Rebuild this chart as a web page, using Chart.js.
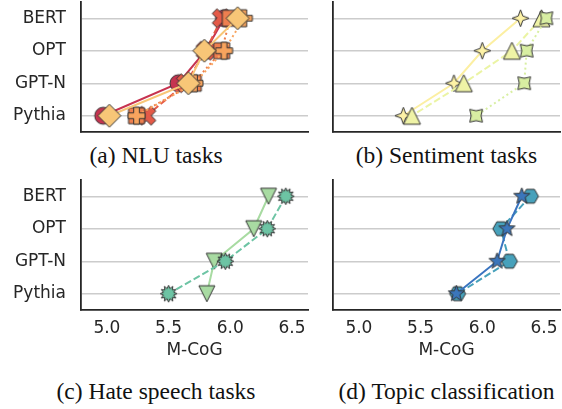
<!DOCTYPE html>
<html><head><meta charset="utf-8">
<script src="https://cdn.jsdelivr.net/npm/chart.js@4"></script>
<style>
body{margin:0;background:#fff;width:562px;height:409px;position:relative;overflow:hidden}
canvas{position:absolute}
.cap{position:absolute;font-family:"Liberation Serif","Times New Roman",serif;font-size:23.5px;color:#111;text-align:center;white-space:nowrap;line-height:1}
</style></head><body>
<canvas id="ca" width="312" height="135" style="left:0;top:0"></canvas>
<canvas id="cb" width="231" height="135" style="left:331px;top:0"></canvas>
<canvas id="cc" width="312" height="187" style="left:0;top:178px"></canvas>
<canvas id="cd" width="231" height="187" style="left:331px;top:178px"></canvas>
<div class="cap" style="left:0;width:312px;top:144px">(a) NLU tasks</div>
<div class="cap" style="left:331px;width:231px;top:144px">(b) Sentiment tasks</div>
<div class="cap" style="left:0;width:312px;top:380px">(c) Hate speech tasks</div>
<div class="cap" style="left:331px;width:231px;top:380px">(d) Topic classification</div>
<script>
// ---- data ----
const categories = ['BERT', 'OPT', 'GPT-N', 'Pythia'];
const xTicks = [5.0, 5.5, 6.0, 6.5];
const axisTitle = 'M-CoG';
// (a) NLU tasks
const nluCircle  = [5.95, 5.80, 5.58, 4.97];
const nluX       = [5.93, 5.80, 5.64, 5.32];
const nluSquare  = [6.00, 5.93, 5.70, 5.24];
const nluPlus    = [6.11, 5.95, 5.71, 5.24];
const nluDiamond = [6.06, 5.79, 5.66, 5.02];
// (b) Sentiment tasks
const sentSparkle    = [6.31, 6.00, 5.77, 5.36];
const sentTriangle   = [6.48, 6.24, 5.85, 5.43];
const sentSparkleRot = [6.52, 6.36, 6.34, 5.95];
// (c) Hate speech tasks
const hateTriangle = [6.31, 6.19, 5.87, 5.81];
const hateStar     = [6.45, 6.30, 5.96, 5.50];
// (d) Topic classification
const topicHex  = [6.39, 6.15, 6.22, 5.80];
const topicStar = [6.32, 6.20, 6.12, 5.79];

// ---- marker images ----
function marker(shape, size, fill) {
  const pad = 3, S = Math.ceil(size + pad * 2);
  const c = document.createElement('canvas'); c.width = S; c.height = S;
  const g = c.getContext('2d'); g.translate(S / 2, S / 2);
  const r = size / 2; let pts = null;
  const star = (n, ro, ri, rot) => { const p = []; for (let i = 0; i < 2 * n; i++) { const a = rot + i * Math.PI / n; const rr = i % 2 ? ri : ro; p.push([rr * Math.sin(a), -rr * Math.cos(a)]); } return p; };
  const reg = (n, ro, rot) => { const p = []; for (let i = 0; i < n; i++) { const a = rot + i * 2 * Math.PI / n; p.push([ro * Math.sin(a), -ro * Math.cos(a)]); } return p; };
  const plus = (rr) => { const w = rr / 3; return [[-w,-rr],[w,-rr],[w,-w],[rr,-w],[rr,w],[w,w],[w,rr],[-w,rr],[-w,w],[-rr,w],[-rr,-w],[-w,-w]]; };
  switch (shape) {
    case 'circle': g.beginPath(); g.arc(0, 0, r, 0, 2 * Math.PI); break;
    case 'diamond': pts = [[0,-r],[r,0],[0,r],[-r,0]]; break;
    case 'square': pts = [[-r,-r],[r,-r],[r,r],[-r,r]]; break;
    case 'plus': pts = plus(r); break;
    case 'x': pts = plus(r).map(([x, y]) => [(x - y) * Math.SQRT1_2, (x + y) * Math.SQRT1_2]); break;
    case 'triUp': pts = [[0,-r],[r,r],[-r,r]]; break;
    case 'triDown': pts = [[0,r],[r,-r],[-r,-r]]; break;
    case 'sparkle': pts = star(4, r, r * 0.38, 0); break;
    case 'sparkleRot': pts = star(4, r, r * 0.55, Math.PI / 4); break;
    case 'star12': pts = star(12, r, r * 0.62, 0); break;
    case 'hex': pts = reg(6, r, Math.PI / 2); break;
    case 'star5': pts = star(5, r, r * 0.42, 0); break;
  }
  if (pts) { g.beginPath(); pts.forEach((p, i) => i ? g.lineTo(p[0], p[1]) : g.moveTo(p[0], p[1])); g.closePath(); }
  g.fillStyle = fill; g.fill();
  g.lineWidth = 1; g.strokeStyle = '#333'; g.lineJoin = 'miter'; g.stroke();
  return c;
}

const SOLID = [], DASH = [7, 3], DOT = [2, 3];
const TICK_FONT = { family: 'DejaVu Sans', size: 17 };
const INK = '#262626';
function zeroPad(sc) { sc.paddingTop = 0; sc.paddingBottom = 0; sc.paddingLeft = 0; sc.paddingRight = 0; }

function makeChart(id, series, o) {
  new Chart(document.getElementById(id), {
    type: 'scatter',
    data: {
      datasets: series.map((s, i) => ({
        data: s.values.map((v, j) => ({ x: v, y: categories[j] })),
        showLine: true,
        borderColor: s.line,
        borderWidth: 2,
        borderDash: s.dash,
        pointStyle: marker(s.shape, s.size, s.fill),
        pointRadius: 9,
        order: -i,
        clip: false
      }))
    },
    options: {
      responsive: false, animation: false, devicePixelRatio: 1,
      layout: { autoPadding: false, padding: { top: 2, right: o.padR, left: 0, bottom: 0 } },
      plugins: { legend: { display: false }, tooltip: { enabled: false } },
      scales: {
        x: {
          type: 'linear', min: 4.79, max: 6.63,
          afterBuildTicks: sc => { sc.ticks = xTicks.map(v => ({ value: v })); },
          ticks: { display: o.xLabels, padding: 8.6, font: TICK_FONT, color: INK, callback: v => Number(v).toFixed(1), autoSkip: false, maxRotation: 0 },
          grid: { display: false, drawTicks: false },
          border: { color: INK, width: 1.8 },
          title: { display: o.xLabels, text: axisTitle, font: TICK_FONT, color: INK, padding: { top: 0, bottom: 4.6 } },
          afterFit: sc => { sc.height = o.xH; zeroPad(sc); }
        },
        y: {
          type: 'category', labels: categories, offset: true,
          grid: { offset: false, color: '#cccccc', lineWidth: 1.5, drawTicks: false },
          border: { color: INK, width: 1.8 },
          ticks: { display: o.yLabels, padding: 15, font: TICK_FONT, color: INK },
          afterFit: sc => { sc.width = o.yW; zeroPad(sc); }
        }
      }
    }
  });
}

makeChart('ca', [
  { values: nluCircle,  shape: 'circle',  size: 17, fill: '#c63350', line: '#c63350', dash: SOLID },
  { values: nluX,       shape: 'x',       size: 20, fill: '#e45a48', line: '#e45a48', dash: DASH },
  { values: nluSquare,  shape: 'square',  size: 16, fill: '#ee7f4f', line: '#ee7f4f', dash: DOT },
  { values: nluPlus,    shape: 'plus',    size: 17, fill: '#f8a45e', line: '#f8a45e', dash: DOT },
  { values: nluDiamond, shape: 'diamond', size: 23, fill: '#f8c677', line: '#f8c677', dash: SOLID }
], { padR: 4, yW: 81, xH: 3, xLabels: false, yLabels: true });

makeChart('cb', [
  { values: sentSparkle,    shape: 'sparkle',    size: 17, fill: '#fdf2a6', line: '#fcefa2', dash: SOLID },
  { values: sentTriangle,   shape: 'triUp',      size: 17, fill: '#eff3a6', line: '#ebf4a4', dash: DASH },
  { values: sentSparkleRot, shape: 'sparkleRot', size: 18, fill: '#d8eea2', line: '#d8efa2', dash: DOT }
], { padR: 2, yW: 2, xH: 3, xLabels: false, yLabels: false });

makeChart('cc', [
  { values: hateTriangle, shape: 'triDown', size: 16, fill: '#a8dba2', line: '#a8dba2', dash: SOLID },
  { values: hateStar,     shape: 'star12',  size: 17, fill: '#6dc4a4', line: '#6dc4a4', dash: DASH }
], { padR: 4, yW: 81, xH: 55, xLabels: true, yLabels: true });

makeChart('cd', [
  { values: topicHex,  shape: 'hex',   size: 16, fill: '#47a1bb', line: '#47a1bb', dash: DASH },
  { values: topicStar, shape: 'star5', size: 17, fill: '#3b76bb', line: '#3a74c0', dash: SOLID }
], { padR: 2, yW: 2, xH: 55, xLabels: true, yLabels: false });
</script>
</body></html>
